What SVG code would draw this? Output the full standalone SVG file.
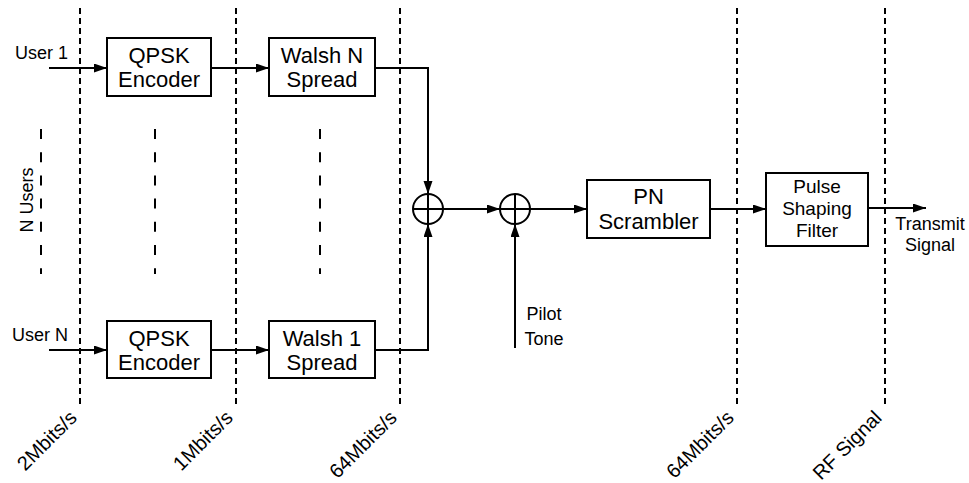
<svg xmlns="http://www.w3.org/2000/svg" width="969" height="483" viewBox="0 0 969 483">
<defs>
<style>
.t{font-family:"Liberation Sans",Arial,sans-serif;fill:#000}
.b{font-size:22px}
.s{font-size:18px}
.r{font-size:20px}
.box{fill:#fff;stroke:#000;stroke-width:2}
.sep{stroke:#000;stroke-width:2;stroke-dasharray:6,4;fill:none}
.usr{stroke:#000;stroke-width:2;stroke-dasharray:10,13.2;fill:none}
.c{stroke:#000;stroke-width:2;fill:none}
.sum{fill:#fff;stroke:#000;stroke-width:2}
</style>
<marker id="ah" markerUnits="userSpaceOnUse" markerWidth="14" markerHeight="10" refX="13" refY="4.5" orient="auto">
<path d="M0,0 L13,4.5 L0,9 z" fill="#000"/>
</marker>
</defs>
<rect width="969" height="483" fill="#fff"/>
<g id="separators">
<line class="sep" x1="80" y1="8" x2="80" y2="404"/>
<line class="sep" x1="236" y1="8" x2="236" y2="404"/>
<line class="sep" x1="400" y1="8" x2="400" y2="404"/>
<line class="sep" x1="737" y1="8" x2="737" y2="404"/>
<line class="sep" x1="885" y1="8" x2="885" y2="404"/>
<line class="usr" x1="41" y1="129" x2="41" y2="274"/>
<line class="usr" x1="155" y1="129" x2="155" y2="274"/>
<line class="usr" x1="320" y1="129" x2="320" y2="274"/>
</g>
<g id="rates" class="t r" text-anchor="end">
<text transform="translate(78,419) rotate(-45)">2Mbits/s</text>
<text transform="translate(234,419) rotate(-45)">1Mbits/s</text>
<text transform="translate(398,419) rotate(-45)">64Mbits/s</text>
<text transform="translate(735,419) rotate(-45)">64Mbits/s</text>
<text transform="translate(883,419) rotate(-45)">RF Signal</text>
</g>
<g id="connectors">
<line class="c" x1="49" y1="68" x2="107" y2="68" marker-end="url(#ah)"/>
<line class="c" x1="211" y1="68" x2="269" y2="68" marker-end="url(#ah)"/>
<polyline class="c" points="375,68 428,68 428,194" marker-end="url(#ah)"/>
<line class="c" x1="49" y1="350" x2="107" y2="350" marker-end="url(#ah)"/>
<line class="c" x1="211" y1="350" x2="269" y2="350" marker-end="url(#ah)"/>
<polyline class="c" points="375,350 428,350 428,224" marker-end="url(#ah)"/>
<line class="c" x1="443" y1="209" x2="500" y2="209" marker-end="url(#ah)"/>
<line class="c" x1="515" y1="348" x2="515" y2="224" marker-end="url(#ah)"/>
<line class="c" x1="530" y1="209" x2="587" y2="209" marker-end="url(#ah)"/>
<line class="c" x1="710" y1="209" x2="766" y2="209" marker-end="url(#ah)"/>
<line class="c" x1="868" y1="208" x2="926" y2="208" marker-end="url(#ah)"/>
</g>
<g id="user1" class="t s"><text x="68" y="59" text-anchor="end">User 1</text></g>
<g id="userN" class="t s"><text x="68" y="341" text-anchor="end">User N</text></g>
<g id="nusers" class="t s"><text transform="translate(33,200) rotate(-90)" text-anchor="middle">N Users</text></g>
<g id="qpsk1">
<rect class="box" x="107" y="38" width="104" height="58"/>
<text class="t b" x="159" y="63" text-anchor="middle">QPSK</text>
<text class="t b" x="159" y="87" text-anchor="middle">Encoder</text>
</g>
<g id="walshN">
<rect class="box" x="269" y="38" width="106" height="58"/>
<text class="t b" x="322" y="63" text-anchor="middle">Walsh N</text>
<text class="t b" x="322" y="87" text-anchor="middle">Spread</text>
</g>
<g id="qpskN">
<rect class="box" x="107" y="321" width="104" height="57"/>
<text class="t b" x="159" y="346" text-anchor="middle">QPSK</text>
<text class="t b" x="159" y="370" text-anchor="middle">Encoder</text>
</g>
<g id="walsh1">
<rect class="box" x="269" y="321" width="106" height="57"/>
<text class="t b" x="322" y="346" text-anchor="middle">Walsh 1</text>
<text class="t b" x="322" y="370" text-anchor="middle">Spread</text>
</g>
<g id="sum1">
<circle class="sum" cx="428" cy="209" r="15"/>
<path class="c" d="M413,209 H443 M428,194 V224"/>
</g>
<g id="sum2">
<circle class="sum" cx="515" cy="209" r="15"/>
<path class="c" d="M500,209 H530 M515,194 V224"/>
</g>
<g id="pilot" class="t s">
<text x="544" y="320" text-anchor="middle">Pilot</text>
<text x="544" y="345" text-anchor="middle">Tone</text>
</g>
<g id="pn">
<rect class="box" x="587" y="180" width="123" height="58"/>
<text class="t b" x="648.5" y="204" text-anchor="middle">PN</text>
<text class="t b" x="648.5" y="229" text-anchor="middle">Scrambler</text>
</g>
<g id="pulse">
<rect class="box" x="766" y="173" width="102" height="73"/>
<text class="t" font-size="19" x="817" y="193" text-anchor="middle">Pulse</text>
<text class="t" font-size="19" x="817" y="215" text-anchor="middle">Shaping</text>
<text class="t" font-size="19" x="817" y="237" text-anchor="middle">Filter</text>
</g>
<g id="transmit" class="t s">
<text x="930" y="230" text-anchor="middle">Transmit</text>
<text x="930" y="251" text-anchor="middle">Signal</text>
</g>
</svg>
